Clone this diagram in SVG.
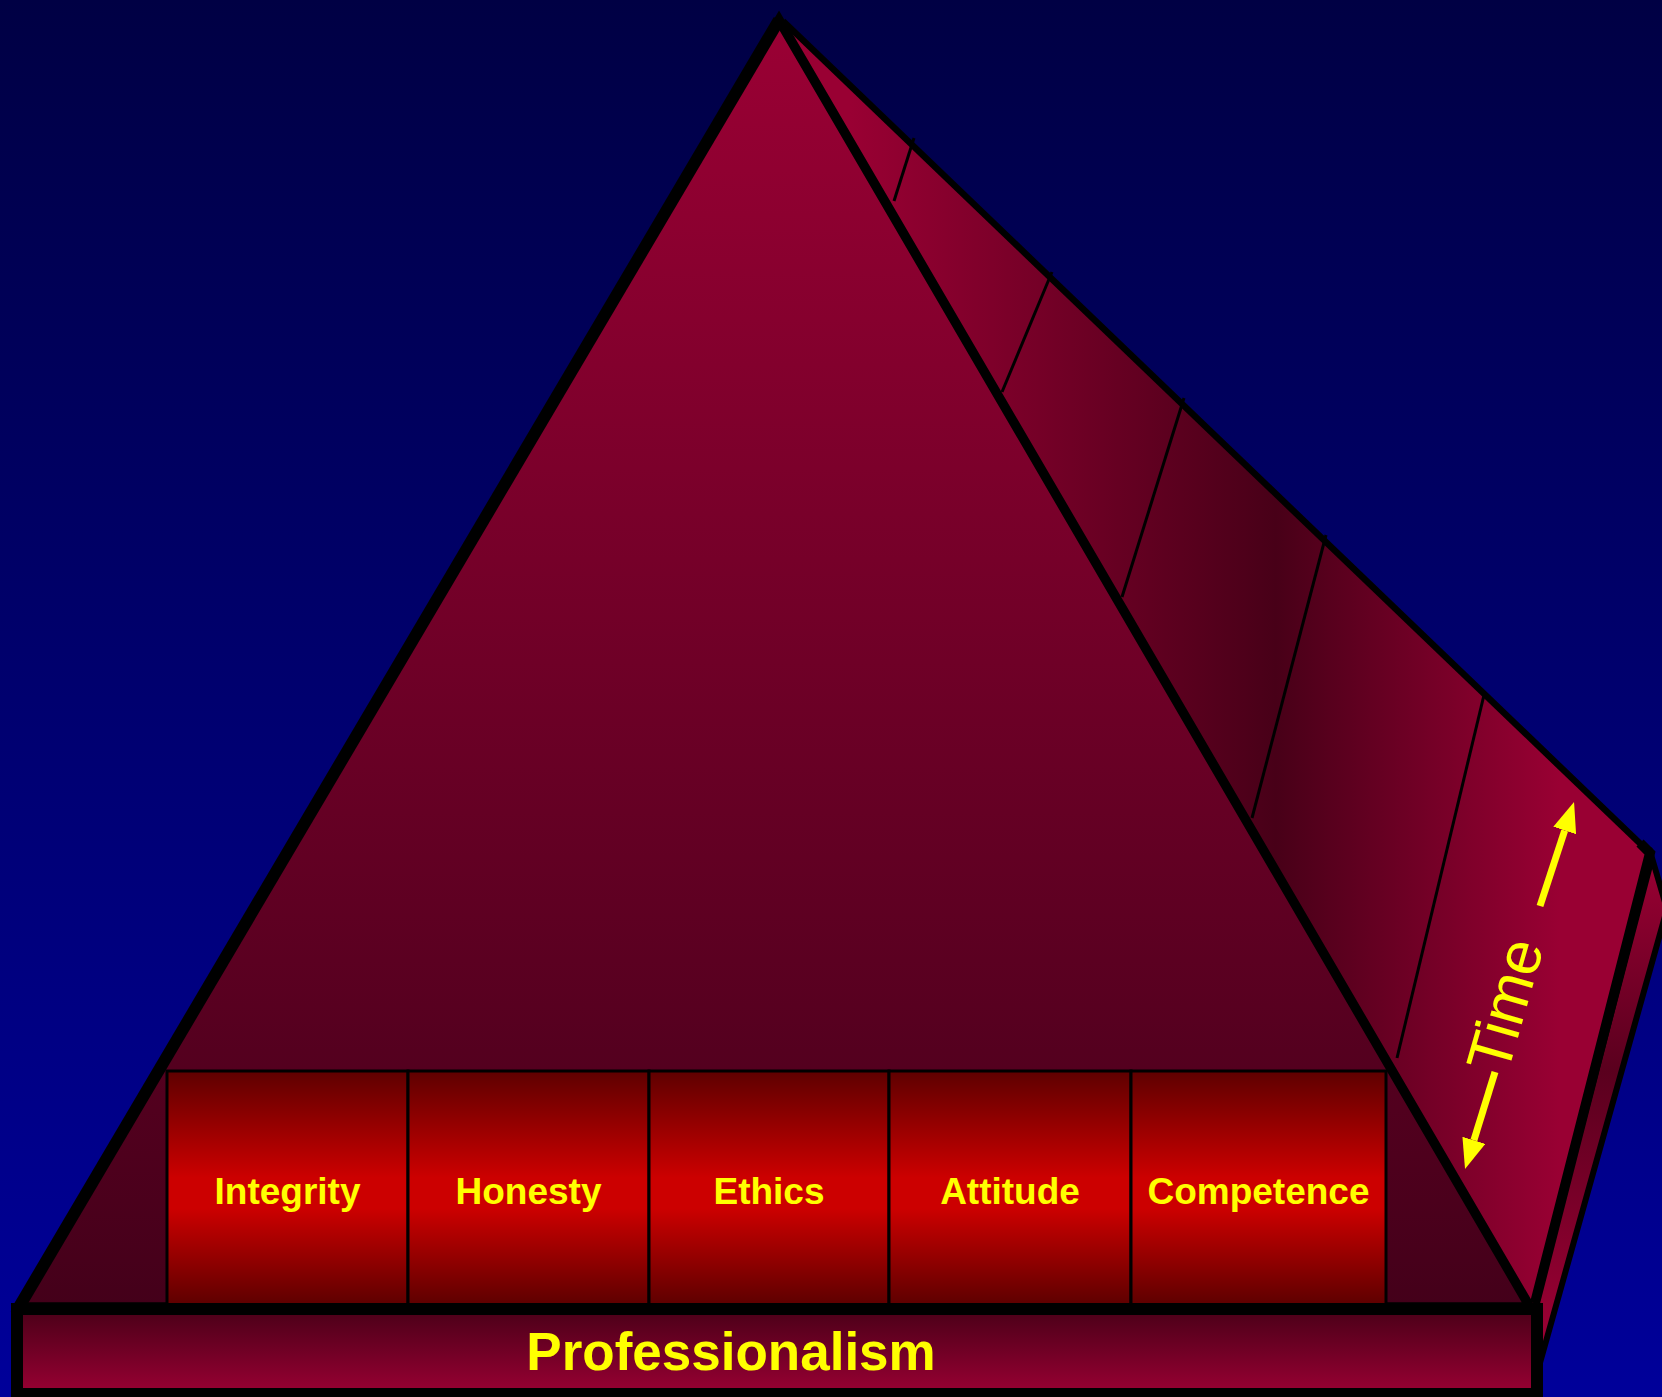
<svg xmlns="http://www.w3.org/2000/svg" width="1662" height="1397" viewBox="0 0 1662 1397">
  <defs>
    <linearGradient id="bg" x1="0" y1="0" x2="0" y2="1397" gradientUnits="userSpaceOnUse">
      <stop offset="0" stop-color="#000044"/>
      <stop offset="1" stop-color="#00009a"/>
    </linearGradient>
    <linearGradient id="front" x1="0" y1="20" x2="0" y2="1305" gradientUnits="userSpaceOnUse">
      <stop offset="0" stop-color="#9a0034"/>
      <stop offset="1" stop-color="#44001a"/>
    </linearGradient>
    <linearGradient id="back" x1="850" y1="0" x2="1560" y2="0" gradientUnits="userSpaceOnUse">
      <stop offset="0" stop-color="#990033"/>
      <stop offset="0.6" stop-color="#480018"/>
      <stop offset="1" stop-color="#990033"/>
    </linearGradient>
    <linearGradient id="slab" x1="0" y1="860" x2="0" y2="1330" gradientUnits="userSpaceOnUse">
      <stop offset="0" stop-color="#990033"/>
      <stop offset="0.45" stop-color="#5a001e"/>
      <stop offset="1" stop-color="#990033"/>
    </linearGradient>
    <linearGradient id="box" x1="0" y1="0" x2="0" y2="1">
      <stop offset="0" stop-color="#5e0000"/>
      <stop offset="0.45" stop-color="#cc0000"/>
      <stop offset="0.58" stop-color="#cc0000"/>
      <stop offset="1" stop-color="#5a0000"/>
    </linearGradient>
    <linearGradient id="bar" x1="0" y1="0" x2="0" y2="1">
      <stop offset="0" stop-color="#4a0018"/>
      <stop offset="1" stop-color="#990033"/>
    </linearGradient>
    <marker id="head" viewBox="0 0 30 24" refX="0" refY="12" markerWidth="30" markerHeight="24" markerUnits="userSpaceOnUse" orient="auto">
      <path d="M0,0 L30,12 L0,24 Z" fill="#ffff00"/>
    </marker>
    <style>
      .lbl { font-family: "Liberation Sans", Arial, sans-serif; font-weight: bold; font-size: 37px; fill: #ffff00; text-anchor: middle; }
      .title { font-family: "Liberation Sans", Arial, sans-serif; font-weight: bold; font-size: 53px; fill: #ffff00; text-anchor: middle; }
      .time { font-family: "Liberation Sans", Arial, sans-serif; font-size: 62px; fill: #ffff00; }
      .box { fill: url(#box); stroke: #000; stroke-width: 3; }
      .div { stroke: #000; stroke-width: 3; fill: none; }
      .arrow { stroke: #ffff00; stroke-width: 7; fill: none; marker-end: url(#head); }
    </style>
  </defs>

  <rect x="0" y="0" width="1662" height="1397" fill="url(#bg)"/>

  <g id="back-face">
    <polygon points="781,20 1650,853 1535,1303 1530,1306" fill="url(#back)"/>
    <line class="div" x1="914" y1="138" x2="894" y2="201"/>
    <line class="div" x1="1052" y1="272" x2="1002" y2="392"/>
    <line class="div" x1="1184" y1="398" x2="1122" y2="597"/>
    <line class="div" x1="1326" y1="535" x2="1252" y2="818"/>
    <line class="div" x1="1484" y1="695" x2="1397" y2="1058"/>
  </g>

  <g id="slab">
    <polygon points="1652,858 1667,909 1538,1370 1536,1300" fill="url(#slab)" stroke="#000" stroke-width="6" stroke-linejoin="miter"/>
  </g>

  <g id="back-edges">
    <line x1="783" y1="21" x2="1650" y2="853" stroke="#000" stroke-width="6.5"/>
    <polyline points="1640,843 1650,853 1535,1303" fill="none" stroke="#000" stroke-width="10" stroke-linejoin="miter"/>
  </g>

  <g id="pyramid">
    <polygon points="779,20 1530,1307 19,1307" fill="url(#front)" stroke="#000" stroke-width="9.5" stroke-linejoin="miter"/>
    <line x1="779" y1="20" x2="19" y2="1307" stroke="#000" stroke-width="12"/>
  </g>

  <g id="integrity">
    <rect class="box" x="167" y="1071" width="241" height="237"/>
    <text class="lbl" x="287.5" y="1204">Integrity</text>
  </g>
  <g id="honesty">
    <rect class="box" x="408" y="1071" width="241" height="237"/>
    <text class="lbl" x="528.5" y="1204">Honesty</text>
  </g>
  <g id="ethics">
    <rect class="box" x="649" y="1071" width="240" height="237"/>
    <text class="lbl" x="769" y="1204">Ethics</text>
  </g>
  <g id="attitude">
    <rect class="box" x="889" y="1071" width="242" height="237"/>
    <text class="lbl" x="1010" y="1204">Attitude</text>
  </g>
  <g id="competence">
    <rect class="box" x="1131" y="1071" width="255" height="237"/>
    <text class="lbl" x="1258.5" y="1204">Competence</text>
  </g>

  <g id="professionalism">
    <rect x="17" y="1309" width="1520" height="85" fill="url(#bar)" stroke="#000" stroke-width="12"/>
    <text class="title" x="731" y="1370">Professionalism</text>
  </g>

  <g id="time">
    <text class="time" transform="translate(1507,1076) rotate(-74)">Time</text>
  </g>

  <g id="connectors">
    <line class="arrow" x1="1540" y1="906" x2="1564.7" y2="830.5"/>
    <line class="arrow" x1="1495" y1="1072" x2="1473.9" y2="1140.3"/>
  </g>
</svg>
